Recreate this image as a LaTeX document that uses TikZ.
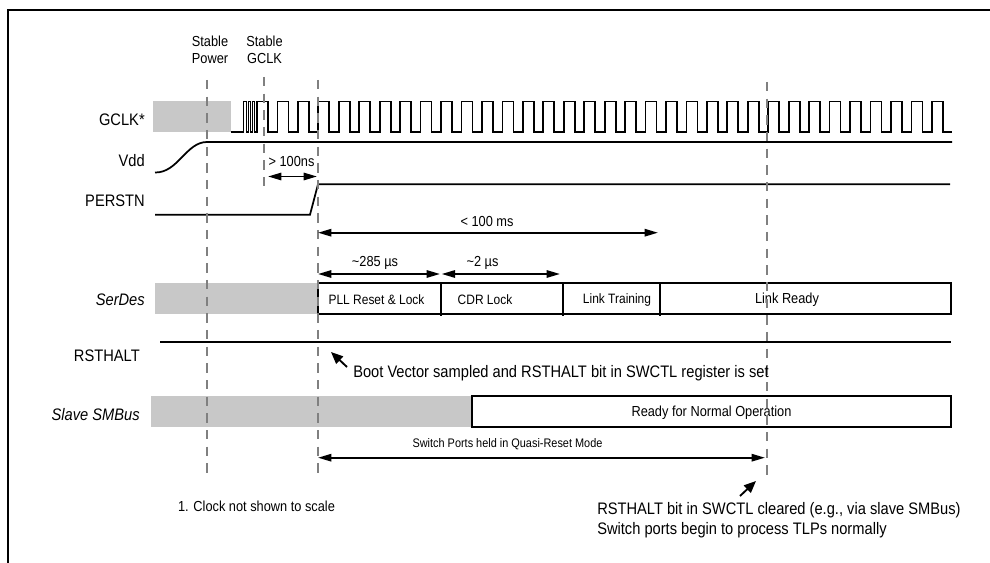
\documentclass[tikz,border=0pt]{standalone}
\usepackage{fontspec}
\setmainfont{Liberation Sans}[FakeStretch=0.88]
\usepackage{tikz}
\usetikzlibrary{
    arrows.meta,
    calc
}
\definecolor{markgray}{RGB}{128,128,128}
\definecolor{undefgray}{RGB}{200,200,200}
\tikzstyle{frame} = [
    line width=1.5pt,
    draw=black
]
\tikzstyle{signal} = [
    line width=1.3pt,
    draw=black
]
\tikzstyle{marker} = [
    line width=2.2pt,
    draw=markgray,
    dash pattern=on 7pt off 5.5pt
]
\tikzstyle{undef} = [
    fill=undefgray,
    draw=none
]
\tikzstyle{phase} = [
    line width=1.6pt,
    draw=black,
    fill=white
]
\tikzstyle{siglabel} = [
    anchor=east,
    inner sep=0pt,
    font=\fontsize{12.5}{14}\selectfont
]
\tikzstyle{note} = [
    inner sep=0pt,
    font=\fontsize{10.9}{12.75}\selectfont
]
\tikzstyle{boxtext} = [
    inner sep=0pt,
    font=\fontsize{10.2}{12}\selectfont
]
\tikzstyle{remark} = [
    inner sep=0pt,
    font=\fontsize{12.5}{15}\selectfont
]
\tikzstyle{span} = [
    <->,
    >={Triangle[length=10pt,width=5.5pt]},
    line width=1.4pt
]
\tikzstyle{pointer} = [
    ->,
    >={Triangle[length=9pt,width=7.5pt]},
    line width=1.4pt
]

\begin{document}
\begin{tikzpicture}[x=0.75pt, y=-0.75pt]
        \useasboundingbox (0,0) rectangle (990,563);

        % Outer frame
        \draw[frame] (992,10) -- (8,10) -- (8,565);

        % Event labels
        \node[note, align=center] (stpwr) at (210,50) {Stable\\Power};
        \node[note, align=center] (stclk) at (264.5,50) {Stable\\GCLK};

        % Signal names
        \node[siglabel] (gclk) at (145,120) {GCLK*};
        \node[siglabel] (vdd) at (145,161) {Vdd};
        \node[siglabel] (perstn) at (145,201) {PERSTN};
        \node[siglabel, font=\fontsize{12.5}{14}\selectfont\itshape] (serdes) at (145,300) {SerDes};
        \node[siglabel] (rsthalt) at (140,356) {RSTHALT};
        \node[siglabel, font=\fontsize{12.5}{14}\selectfont\itshape] (smbus) at (140,415) {Slave SMBus};

        % GCLK
        \fill[undef] (153,101) rectangle (231,132);
        \draw[signal] (231,132) -- (243.5,132)
            -- (243.5,101.5) -- (246.5,101.5) -- (246.5,132) -- (248.5,132)
            -- (248.5,101.5) -- (250.5,101.5) -- (250.5,132) -- (252.5,132)
            -- (252.5,101.5) -- (254.5,101.5) -- (254.5,132)
            \foreach \k in {0,...,33} {
                -- ({257+20.45*\k},132) -- ({257+20.45*\k},101.5)
                -- ({268+20.45*\k},101.5) -- ({268+20.45*\k},132)
            } -- (952,132);

        % Vdd
        \draw[signal] (155,172.5) .. controls (178,173) and (186,142) .. (207,142) -- (952,142);

        % PERSTN
        \draw[signal] (155,214.7) -- (310,214.7) -- (318,184.3) -- (950,184.3);

        % SerDes
        \fill[undef] (155,283.3) rectangle (318,314);
        \draw[phase] (318,283.3) rectangle (951,314);
        \draw[phase] (441,283.3) -- (441,316);
        \draw[phase] (563,283.3) -- (563,316);
        \draw[phase] (660,283.3) -- (660,316);
        \node[boxtext] (pll) at (376.5,300) {PLL Reset \& Lock};
        \node[boxtext] (cdr) at (485,300) {CDR Lock};
        \node[boxtext] (train) at (617,300) {Link Training};
        \node[note] (ready) at (787,300) {Link Ready};

        % RSTHALT
        \draw[signal] (160,341.7) -- (951,341.7);

        % Slave SMBus
        \fill[undef] (151,395.7) rectangle (472,427);
        \draw[phase] (472,395.7) rectangle (951,427);
        \node[note] (normal) at (711.5,413) {Ready for Normal Operation};

        % Markers
        \draw[marker] (207,80) -- (207,476);
        \draw[marker] (264,77) -- (264,189);
        \draw[marker] (318,80) -- (318,476);
        \draw[marker] (767,82) -- (767,481);

        % Timing spans
        \coordinate (ns-a) at (268,176.5);
        \coordinate (ns-b) at (317,176.5);
        \draw[span] (ns-a) -- (ns-b);
        \node[note] (ns) at (291.5,161) {> 100ns};

        \coordinate (ms-a) at (318,232.7);
        \coordinate (ms-b) at (658,232.7);
        \draw[span] (ms-a) -- (ms-b);
        \node[note] (ms) at (487,221) {< 100 ms};

        \coordinate (pll-a) at (318,274);
        \coordinate (pll-b) at (440,274);
        \coordinate (cdr-a) at (441.7,274);
        \coordinate (cdr-b) at (560,274);
        \draw[span] (pll-a) -- (pll-b);
        \draw[span] (cdr-a) -- (cdr-b);
        \node[note] (t285) at (375,262.5) {\textasciitilde285 µs};
        \node[note] (t2) at (482.5,262.5) {\textasciitilde2 µs};

        \coordinate (qr-a) at (318,457.7);
        \coordinate (qr-b) at (765,457.7);
        \draw[span] (qr-a) -- (qr-b);
        \node[note, font=\fontsize{9.3}{11}\selectfont] (quasi) at (507.5,444) {Switch Ports held in Quasi-Reset Mode};

        % Notes
        \coordinate (bv-tail) at (347,367);
        \coordinate (bv-tip) at (331,352);
        \draw[pointer] (bv-tail) -- (bv-tip);
        \node[remark, anchor=west] (boot) at (353,373) {Boot Vector sampled and RSTHALT bit in SWCTL register is set};

        \coordinate (clr-tail) at (740,496);
        \coordinate (clr-tip) at (756,481);
        \draw[pointer] (clr-tail) -- (clr-tip);
        \node[remark, anchor=west, align=left] (clear) at (597,520) {RSTHALT bit in SWCTL cleared (e.g., via slave SMBus)\\Switch ports begin to process TLPs normally};

        \node[note] (scale) at (256.5,506) {1. Clock not shown to scale};
    \end{tikzpicture}
\end{document}
